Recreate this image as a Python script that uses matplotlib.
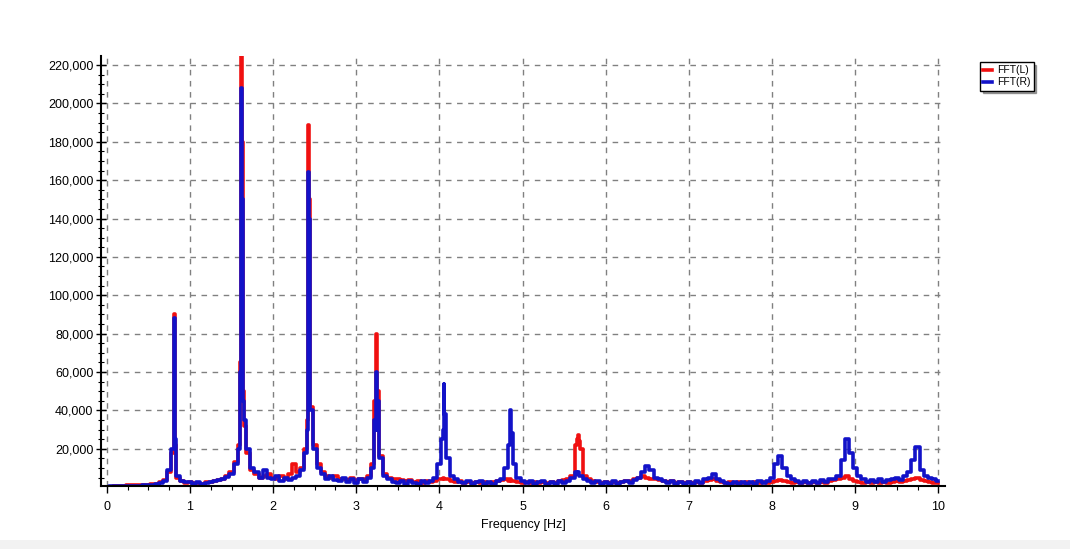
import numpy as np
import matplotlib
matplotlib.use("Agg")
import matplotlib.pyplot as plt
from matplotlib.ticker import FuncFormatter, MultipleLocator
from matplotlib.patches import Rectangle

plt.rcParams['font.family'] = ['Liberation Sans', 'DejaVu Sans']

# base spectrum sampled every 0.05 Hz, amplitudes in thousands
base_freq = np.linspace(0, 10, 201)

fft_r_base = [
    0.3, 0.4, 0.5, 0.4, 0.6, 0.5, 0.7, 0.6, 0.8, 0.9, 1.0, 1.2, 1.5, 2.0, 3.0, 9.0, 20, 6.0, 3.0, 2.5,
    2.8, 1.8, 2.5, 1.6, 2.4, 2.6, 3.0, 3.5, 4.0, 5.5, 7.0, 12, 20, 35, 20, 10, 8, 5, 9, 5,
    4, 6, 3, 5, 3.5, 5, 6, 9, 18, 40, 20, 10, 7, 4.5, 6, 3.5, 3, 5, 2.5, 4,
    2, 4, 2.5, 5, 10, 30, 15, 6, 4, 2.5, 2, 3, 1.8, 3, 2, 1.8, 3, 2, 3, 5,
    12, 30, 15, 6, 4, 2.5, 2, 3, 1.6, 2.5, 3, 1.8, 2.5, 1.6, 3, 4, 10, 25, 12, 5,
    3, 2, 3, 1.8, 2.5, 3, 1.6, 2.5, 1.8, 3, 2, 3, 5, 8, 6, 4, 3, 2, 3, 1.8,
    2.5, 1.8, 3, 1.8, 2.5, 3, 2.2, 3.5, 5, 8, 11, 9, 5, 4, 3, 2, 3, 1.8, 2.5, 1.8,
    2.5, 1.8, 3, 2.2, 4, 5, 7, 4, 3, 2, 1.8, 2.5, 1.6, 2.5, 1.8, 2.5, 1.8, 3, 2, 3,
    5, 12, 16, 10, 6, 4, 3, 2, 3, 2.2, 3, 2.2, 3.5, 2.5, 4, 4.5, 6, 14, 25, 18,
    10, 6, 4, 2.5, 3.5, 2.5, 4, 2.5, 3.5, 4, 5, 3.5, 6, 8, 14, 21, 9, 6, 5, 4,
    3,
]

fft_l_base = [
    0.2, 0.3, 0.4, 0.6, 0.8, 1.0, 0.9, 1.1, 1.2, 1.0, 1.3, 1.5, 1.8, 2.5, 3.5, 8, 18, 5, 3, 2,
    2.5, 2, 2.2, 1.8, 2.5, 2.8, 3.2, 3.8, 4.5, 6, 8, 13, 22, 32, 18, 9, 7, 5, 6, 7,
    5, 4, 6, 4, 7, 12, 8, 10, 20, 42, 22, 12, 8, 6, 5, 6, 4, 4.5, 3.5, 5,
    3, 4.5, 4, 6, 12, 40, 16, 7, 5, 4.5, 4, 3.5, 3, 3.5, 2.5, 3, 2, 3, 2.5, 3,
    4, 5, 4, 3, 2.5, 3, 2, 2.5, 2, 2.5, 2, 2.5, 2, 2.5, 3, 3.5, 4, 3, 3, 2.5,
    2, 2.5, 2, 2.5, 2, 2.5, 2, 2.5, 2, 3, 3.5, 4, 6, 22, 20, 6, 4, 3, 2.5, 2,
    2.5, 2, 2.5, 2, 2.5, 3, 3, 4, 5, 6, 5, 4.5, 4, 3.5, 3, 2.5, 3, 2, 2.5, 2,
    2.5, 2, 2.5, 2, 3, 3.5, 4, 3, 2.5, 2, 2.5, 2, 2.5, 2, 2.5, 2, 2.5, 2, 2.5, 2,
    2.5, 3, 3.5, 3, 2.5, 2, 2.5, 2, 2.5, 2, 2.5, 2, 2.5, 2, 3, 3.5, 4, 5, 6, 4,
    3, 2.5, 2, 2.5, 2, 2.5, 2, 2.5, 2, 2.5, 3, 2.5, 3, 3.5, 4, 5, 3.5, 3, 2.5, 2,
    2,
]

# extra samples around the harmonic peaks (thousands)
peak_freq = [0.81, 0.815, 0.82, 1.61, 1.62, 1.63, 1.64, 2.415, 2.425, 2.435, 2.44,
             3.235, 3.245, 3.255, 4.045, 4.055, 4.065, 4.845, 4.855, 4.865, 5.66, 5.67, 5.68]
peak_r = [30, 88, 25, 60, 208, 150, 45, 30, 164, 140, 86,
          35, 60, 45, 25, 54, 38, 22, 40, 28, 7, 8, 6]
peak_l = [35, 90, 22, 65, 230, 180, 50, 35, 189, 150, 88,
          45, 80, 50, 4, 5, 4, 3, 4, 3, 25, 27, 24]

y_ticks = list(range(20000, 220001, 20000))
x_ticks = list(range(0, 11))


def merged(base_vals, peak_vals):
    f = np.concatenate([base_freq, peak_freq])
    v = np.concatenate([base_vals, peak_vals]) * 1000
    order = np.argsort(f, kind='stable')
    return f[order], v[order]


fl, vl = merged(fft_l_base, peak_l)
fr, vr = merged(fft_r_base, peak_r)

fig = plt.figure(figsize=(10.7, 5.49), dpi=100)
fig.patches.append(Rectangle((0, 0), 1, 9 / 549, transform=fig.transFigure,
                             facecolor='#f2f2f2', edgecolor='none', zorder=0))
ax = fig.add_axes([101 / 1070, 1 - 486 / 549, (945 - 101) / 1070, (486 - 56) / 549])

ax.plot(fl, vl, color='#f01010', lw=2.6, drawstyle='steps-mid', label='FFT(L)', zorder=3)
ax.plot(fr, vr, color='#1212c8', lw=2.6, drawstyle='steps-mid', label='FFT(R)', zorder=4)

ax.set_xlim(-0.07, 10.08)
ax.set_ylim(600, 224700)
ax.set_xticks(x_ticks)
ax.set_yticks(y_ticks)
ax.xaxis.set_minor_locator(MultipleLocator(0.25))
ax.yaxis.set_minor_locator(MultipleLocator(5000))
ax.yaxis.set_major_formatter(FuncFormatter(lambda v, p: f'{int(v):,}'))
ax.tick_params(axis='y', which='major', direction='inout', length=7, width=1, labelsize=9, pad=2)
ax.tick_params(axis='y', which='minor', direction='inout', length=4, width=0.8)
ax.tick_params(axis='x', which='major', direction='out', length=5, width=1, labelsize=9, pad=6)
ax.tick_params(axis='x', which='minor', direction='out', length=3, width=0.8)
ax.grid(True, which='major', linestyle=(0, (4, 4)), color='#808080', lw=1, zorder=1)
ax.set_axisbelow(True)
for side in ['top', 'right']:
    ax.spines[side].set_visible(False)
for side in ['left', 'bottom']:
    ax.spines[side].set_linewidth(1.5)
    ax.spines[side].set_zorder(5)
ax.set_xlabel('Frequency [Hz]', fontsize=9, labelpad=4)

leg = fig.legend(loc='upper left', bbox_to_anchor=(975 / 1070, 1 - 57 / 549),
                 fontsize=7.5, handlelength=0.8, handletextpad=0.5, borderpad=0.3,
                 labelspacing=0.2, fancybox=False, shadow=True, framealpha=1)
leg.get_frame().set_edgecolor('black')
leg.get_frame().set_linewidth(1)

fig.savefig('out.png', dpi=100)
